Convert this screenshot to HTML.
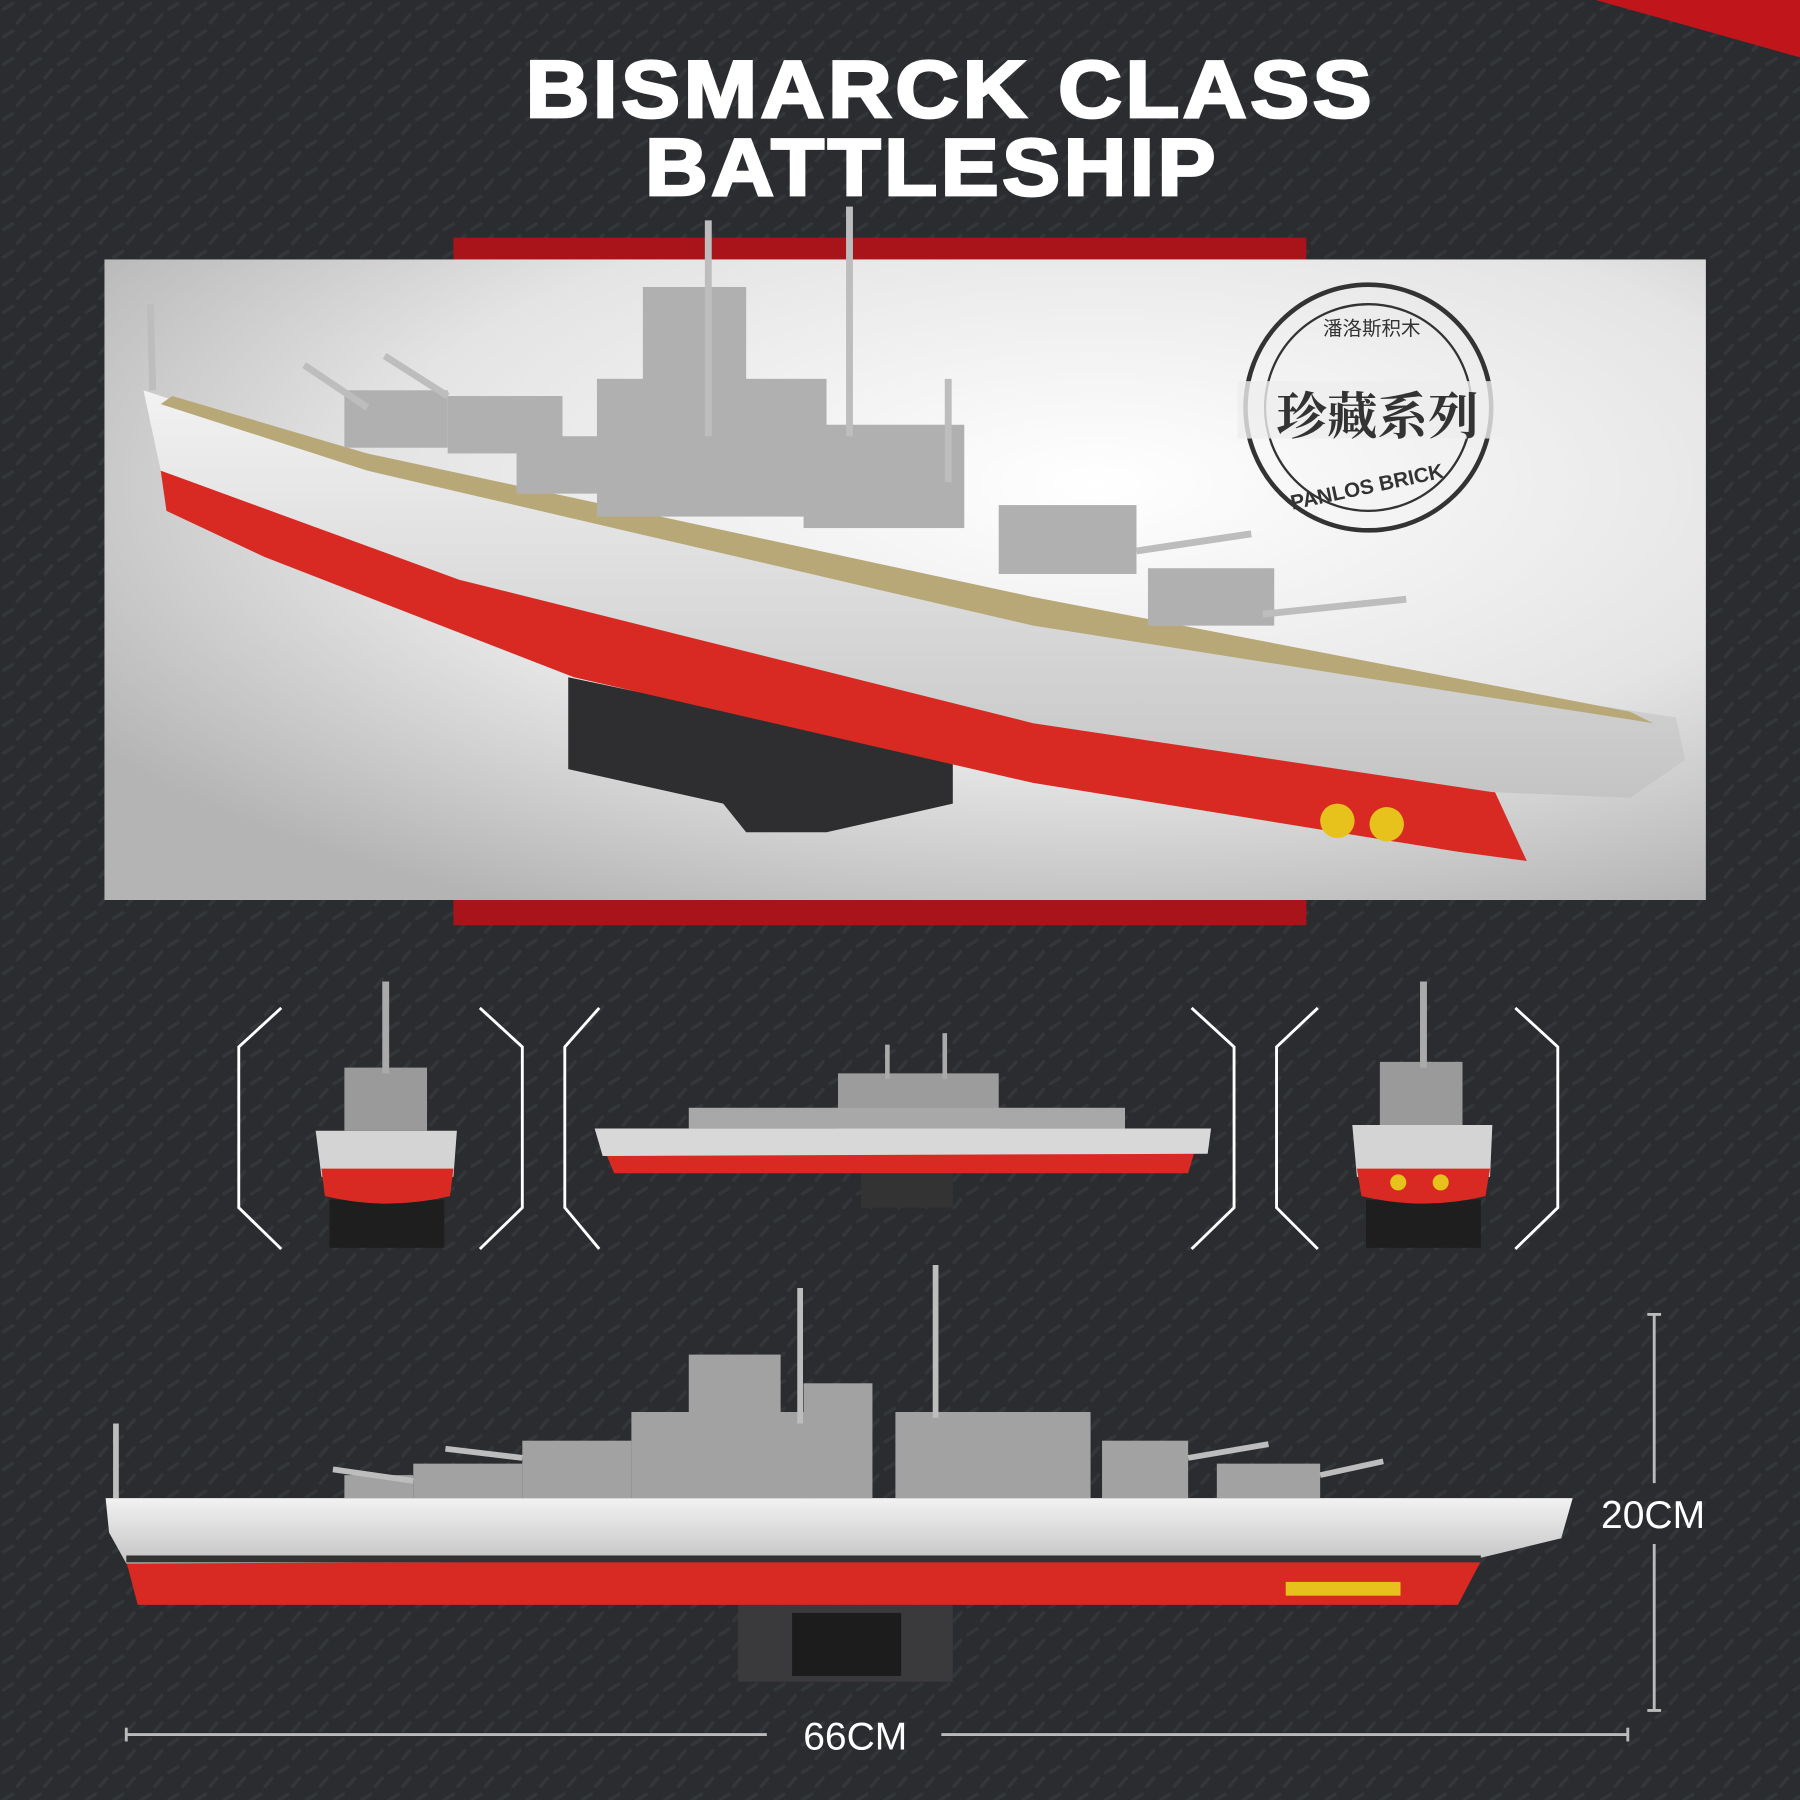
<!DOCTYPE html>
<html><head><meta charset="utf-8"><style>
html,body{margin:0;padding:0;background:#2a2c2f;}
svg{display:block;}
</style></head><body>
<svg width="1800" height="1800" viewBox="0 0 1568 1568" xmlns="http://www.w3.org/2000/svg">
<defs>
<pattern id="pt" width="24" height="24" patternUnits="userSpaceOnUse">
<rect width="24" height="24" fill="#2a2c2f"/>
<path d="M3 8 L11 3 M15 20 L21 13" stroke="#34373a" stroke-width="3" stroke-linecap="round"/>
</pattern>
<radialGradient id="bg" cx="0.62" cy="0.35" r="0.75">
<stop offset="0" stop-color="#ffffff"/><stop offset="0.6" stop-color="#e4e4e4"/><stop offset="1" stop-color="#b4b4b4"/>
</radialGradient>
<linearGradient id="hull" x1="0" y1="0" x2="0" y2="1">
<stop offset="0" stop-color="#f2f2f2"/><stop offset="1" stop-color="#c4c4c4"/>
</linearGradient>
</defs>
<rect width="1568" height="1568" fill="url(#pt)"/>
<polygon points="1390,0 1568,0 1568,50" fill="#c0151a"/>
<text x="828" y="102" text-anchor="middle" font-family="Liberation Sans, sans-serif" font-weight="bold" font-size="70" fill="#fff" stroke="#fff" stroke-width="2.5" letter-spacing="3" textLength="740" lengthAdjust="spacingAndGlyphs">BISMARCK CLASS</text>
<text x="812" y="170" text-anchor="middle" font-family="Liberation Sans, sans-serif" font-weight="bold" font-size="70" fill="#fff" stroke="#fff" stroke-width="2.5" letter-spacing="3" textLength="500" lengthAdjust="spacingAndGlyphs">BATTLESHIP</text>
<rect x="395" y="207" width="743" height="20" fill="#a8141a"/>
<rect x="395" y="784" width="743" height="22" fill="#a8141a"/>
<rect x="91" y="226" width="1395" height="558" fill="url(#bg)"/>
<!-- photo ship -->
<polygon points="495,590 830,660 830,700 720,725 650,725 630,700 540,680 495,670" fill="#2e2e30"/>
<polygon points="140,410 400,500 900,625 1300,685 1330,750 1270,742 900,682 500,590 230,485 145,445" fill="#d82a22"/>
<polygon points="125,340 320,405 900,540 1460,625 1468,662 1420,695 1300,690 900,630 400,505 140,410" fill="url(#hull)"/>
<polygon points="150,345 320,395 900,520 1420,620 1440,630 900,545 320,410 140,352" fill="#b8a878"/>
<g fill="#b0b0b0">
<rect x="520" y="330" width="200" height="120"/><rect x="560" y="250" width="90" height="100"/>
<rect x="700" y="370" width="140" height="90"/><rect x="300" y="340" width="90" height="50"/>
<rect x="390" y="345" width="100" height="50"/><rect x="870" y="440" width="120" height="60"/>
<rect x="1000" y="495" width="110" height="50"/><rect x="450" y="380" width="90" height="50"/>
</g>
<g stroke="#bdbdbd" stroke-width="6">
<line x1="617" y1="192" x2="617" y2="380"/><line x1="740" y1="180" x2="740" y2="380"/>
<line x1="826" y1="330" x2="826" y2="420"/><line x1="131" y1="265" x2="133" y2="340"/>
<line x1="265" y1="318" x2="320" y2="355"/><line x1="335" y1="310" x2="390" y2="345"/>
<line x1="990" y1="480" x2="1090" y2="465"/><line x1="1100" y1="535" x2="1225" y2="522"/>
</g>
<circle cx="1165" cy="715" r="15" fill="#e8c21c"/><circle cx="1208" cy="718" r="15" fill="#e8c21c"/>
<!-- stamp -->
<g fill="none" stroke="#333" stroke-width="4"><circle cx="1192" cy="355" r="107"/><circle cx="1192" cy="355" r="90" stroke-width="2"/></g>
<rect x="1078" y="332" width="245" height="50" fill="#eee" opacity="0.8"/>
<text x="1200" y="378" text-anchor="middle" font-family="Noto Serif CJK SC, serif" font-weight="bold" font-size="44" fill="#333">珍藏系列</text>
<text x="1195" y="292" text-anchor="middle" font-family="Liberation Sans, Noto Sans CJK SC, sans-serif" font-size="17" fill="#333">潘洛斯积木</text>
<text x="1192" y="430" text-anchor="middle" font-family="Liberation Sans, sans-serif" font-weight="bold" font-size="18" fill="#333" transform="rotate(-12 1192 430)">PANLOS BRICK</text>
<!-- brackets -->
<g fill="none" stroke="#fff" stroke-width="2.5">
<polyline points="245,878 208,912 208,1052 245,1088"/><polyline points="418,878 455,912 455,1052 418,1088"/>
<polyline points="522,878 492,912 492,1052 522,1088"/><polyline points="1038,878 1075,912 1075,1052 1038,1088"/>
<polyline points="1148,878 1112,912 1112,1052 1148,1088"/><polyline points="1320,878 1357,912 1357,1052 1320,1088"/>
</g>
<!-- front views -->
<g>
<rect x="287" y="1045" width="100" height="42" fill="#1e1e1e"/>
<path d="M275,985 L398,985 L395,1025 Q337,1050 280,1025 Z" fill="#d4d4d4"/>
<path d="M280,1018 L395,1018 L392,1042 Q337,1055 283,1042 Z" fill="#d82a22"/>
<rect x="300" y="930" width="72" height="55" fill="#9a9a9a"/><rect x="333" y="855" width="6" height="80" fill="#aaa"/>
<rect x="1190" y="1045" width="100" height="42" fill="#1e1e1e"/>
<path d="M1178,980 L1300,980 L1298,1025 Q1240,1050 1182,1025 Z" fill="#d4d4d4"/>
<path d="M1182,1018 L1298,1018 L1294,1042 Q1240,1055 1186,1042 Z" fill="#d82a22"/>
<circle cx="1218" cy="1030" r="7" fill="#e8c21c"/><circle cx="1255" cy="1030" r="7" fill="#e8c21c"/>
<rect x="1202" y="925" width="72" height="55" fill="#9a9a9a"/><rect x="1237" y="855" width="6" height="75" fill="#aaa"/>
</g>
<!-- middle side view -->
<rect x="750" y="1020" width="80" height="32" fill="#333"/>
<polygon points="528,1005 1040,1005 1035,1022 535,1022" fill="#d82a22"/>
<polygon points="518,983 1055,983 1052,1005 525,1007" fill="#d8d8d8"/>
<rect x="730" y="935" width="140" height="48" fill="#9c9c9c"/><rect x="600" y="965" width="380" height="18" fill="#a8a8a8"/>
<rect x="771" y="910" width="4" height="30" fill="#aaa"/><rect x="821" y="900" width="4" height="40" fill="#aaa"/>
<!-- big side view -->
<rect x="643" y="1398" width="187" height="67" fill="#3a3a3c"/><rect x="690" y="1405" width="95" height="55" fill="#1c1c1c"/>
<polygon points="110,1360 1290,1360 1270,1398 120,1398" fill="#d82a22"/>
<polygon points="92,1305 1370,1305 1360,1340 1290,1357 110,1362 95,1335" fill="url(#hull)"/>
<rect x="110" y="1355" width="1180" height="6" fill="#333"/>
<rect x="1120" y="1378" width="100" height="12" fill="#e8c21c"/>
<g fill="#a2a2a2">
<rect x="550" y="1230" width="160" height="75"/><rect x="600" y="1180" width="80" height="55"/>
<rect x="700" y="1205" width="60" height="100"/><rect x="780" y="1230" width="170" height="75"/>
<rect x="455" y="1255" width="95" height="50"/><rect x="360" y="1275" width="95" height="30"/>
<rect x="960" y="1255" width="75" height="50"/><rect x="1060" y="1275" width="90" height="30"/>
<rect x="300" y="1285" width="60" height="20"/>
</g>
<g stroke="#bdbdbd" stroke-width="5">
<line x1="697" y1="1122" x2="697" y2="1240"/><line x1="815" y1="1102" x2="815" y2="1235"/>
<line x1="101" y1="1240" x2="101" y2="1305"/><line x1="290" y1="1280" x2="360" y2="1290"/>
<line x1="388" y1="1262" x2="455" y2="1270"/><line x1="1035" y1="1270" x2="1105" y2="1258"/>
<line x1="1150" y1="1285" x2="1205" y2="1273"/>
</g>
<!-- dimensions -->
<g stroke="#bbb" stroke-width="2.5" fill="none">
<line x1="1441" y1="1145" x2="1441" y2="1292"/><line x1="1441" y1="1345" x2="1441" y2="1490"/>
<line x1="1435" y1="1145" x2="1447" y2="1145"/><line x1="1435" y1="1490" x2="1447" y2="1490"/>
<line x1="110" y1="1511" x2="668" y2="1511"/><line x1="820" y1="1511" x2="1418" y2="1511"/>
<line x1="110" y1="1505" x2="110" y2="1517"/><line x1="1418" y1="1505" x2="1418" y2="1517"/>
</g>
<text x="1440" y="1331" text-anchor="middle" font-family="Liberation Sans, sans-serif" font-size="34" fill="#fff">20CM</text>
<text x="745" y="1524" text-anchor="middle" font-family="Liberation Sans, sans-serif" font-size="34" fill="#fff">66CM</text>
</svg>
</body></html>
